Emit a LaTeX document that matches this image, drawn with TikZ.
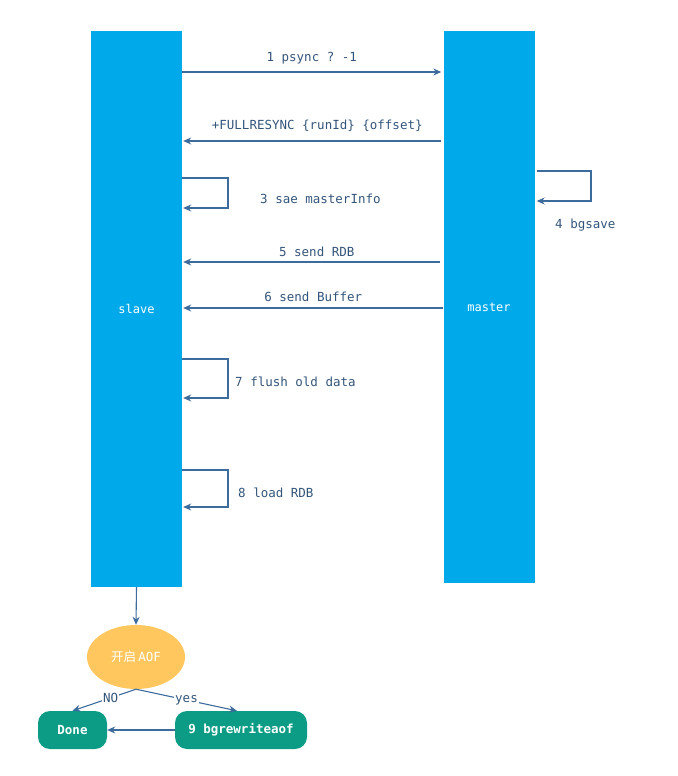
\documentclass[tikz,border=0pt]{standalone}
\usepackage{fontspec}
\setmonofont{DejaVu Sans Mono}
\newfontfamily\cjk{Noto Sans CJK SC}
\usepackage{xcolor}
\usetikzlibrary{arrows.meta,positioning,shapes.geometric}
\definecolor{rsblue}{HTML}{00A9EA}
\definecolor{rsline}{HTML}{3D6B9B}
\definecolor{rstext}{HTML}{34557A}
\definecolor{rsyellow}{HTML}{FFC75E}
\definecolor{rsteal}{HTML}{0C9C85}
\tikzset{
  rsbar/.style={fill=rsblue, draw=none, minimum width=91pt, text=white,
    font=\ttfamily\fontsize{12}{14}\selectfont},
  rsmsg/.style={-{Stealth[length=8pt,width=7pt]}, line width=1.1pt, draw=rsline},
  rslabel/.style={font=\ttfamily\fontsize{12.5}{15}\selectfont, text=rstext, inner sep=1pt},
  rsbox/.style={fill=rsteal, draw=none, rounded corners=12pt, minimum height=38pt,
    text=white, font=\ttfamily\bfseries\fontsize{12.5}{15}\selectfont},
  rsdecide/.style={ellipse, fill=rsyellow, draw=none, minimum width=98pt,
    minimum height=64pt, text=white, font=\ttfamily\fontsize{12.5}{15}\selectfont}
}
\begin{document}
\begin{tikzpicture}[x=1pt, y=-1pt]
  \useasboundingbox (0,0) rectangle (677,776);
  % the two parties
  \node[rsbar, minimum height=556pt] (slave) at (136.5,309) {slave};
  \node[rsbar, minimum height=552pt] (master) at (489,307) {master};
  % messages between them
  \draw[rsmsg] (slave.east |- 0,72) -- node[rslabel, above=6pt] (m1) {1 psync ? -1} ([xshift=-2pt]master.west |- 0,72);
  \draw[rsmsg] ([xshift=-2pt]master.west |- 0,141) -- node[rslabel, above=8pt, xshift=5pt] (m2) {+FULLRESYNC \{runId\} \{offset\}} ([xshift=1pt]slave.east |- 0,141);
  \draw[rsmsg] ([xshift=-3pt]master.west |- 0,262) -- node[rslabel, above=4pt, xshift=5pt] (m5) {5 send RDB} ([xshift=1pt]slave.east |- 0,262);
  \draw[rsmsg] (master.west |- 0,308) -- node[rslabel, above=5pt] (m6) {6 send Buffer} ([xshift=1pt]slave.east |- 0,308);
  % self loops
  \draw[rsmsg] (slave.east |- 0,178) -| (228,208) -- ([xshift=1pt]slave.east |- 0,208);
  \node[rslabel, anchor=west] (m3) at (259,199) {3 sae masterInfo};
  \draw[rsmsg] ([xshift=2pt]master.east |- 0,171) -| (591,201) -- ([xshift=2pt]master.east |- 0,201);
  \node[rslabel, anchor=west] (m4) at (554,225) {4 bgsave};
  \draw[rsmsg] (slave.east |- 0,359) -| (228,398) -- ([xshift=1pt]slave.east |- 0,398);
  \node[rslabel, anchor=west] (m7) at (234,382) {7 flush old data};
  \draw[rsmsg] (slave.east |- 0,470) -| (228,507) -- ([xshift=1pt]slave.east |- 0,507);
  \node[rslabel, anchor=west] (m8) at (237,493) {8 load RDB};
  % after the sync
  \node[rsdecide] (aof) at (136,657) {{\cjk 开启}\,AOF};
  \node[rsbox, minimum width=69pt] (done) at (72.5,730) {Done};
  \node[rsbox, minimum width=132pt] (rewrite) at (241,730) {9 bgrewriteaof};
  \draw[rsmsg] (slave.south) -- (aof.north);
  \draw[rsmsg] (aof.south) -- node[rslabel, fill=white, pos=0.4] {NO} (done.north);
  \draw[rsmsg] (aof.south) -- node[rslabel, fill=white, pos=0.5] {yes} ([xshift=-4pt]rewrite.north);
  \draw[rsmsg] (rewrite.west) -- (done.east);
\end{tikzpicture}
\end{document}
